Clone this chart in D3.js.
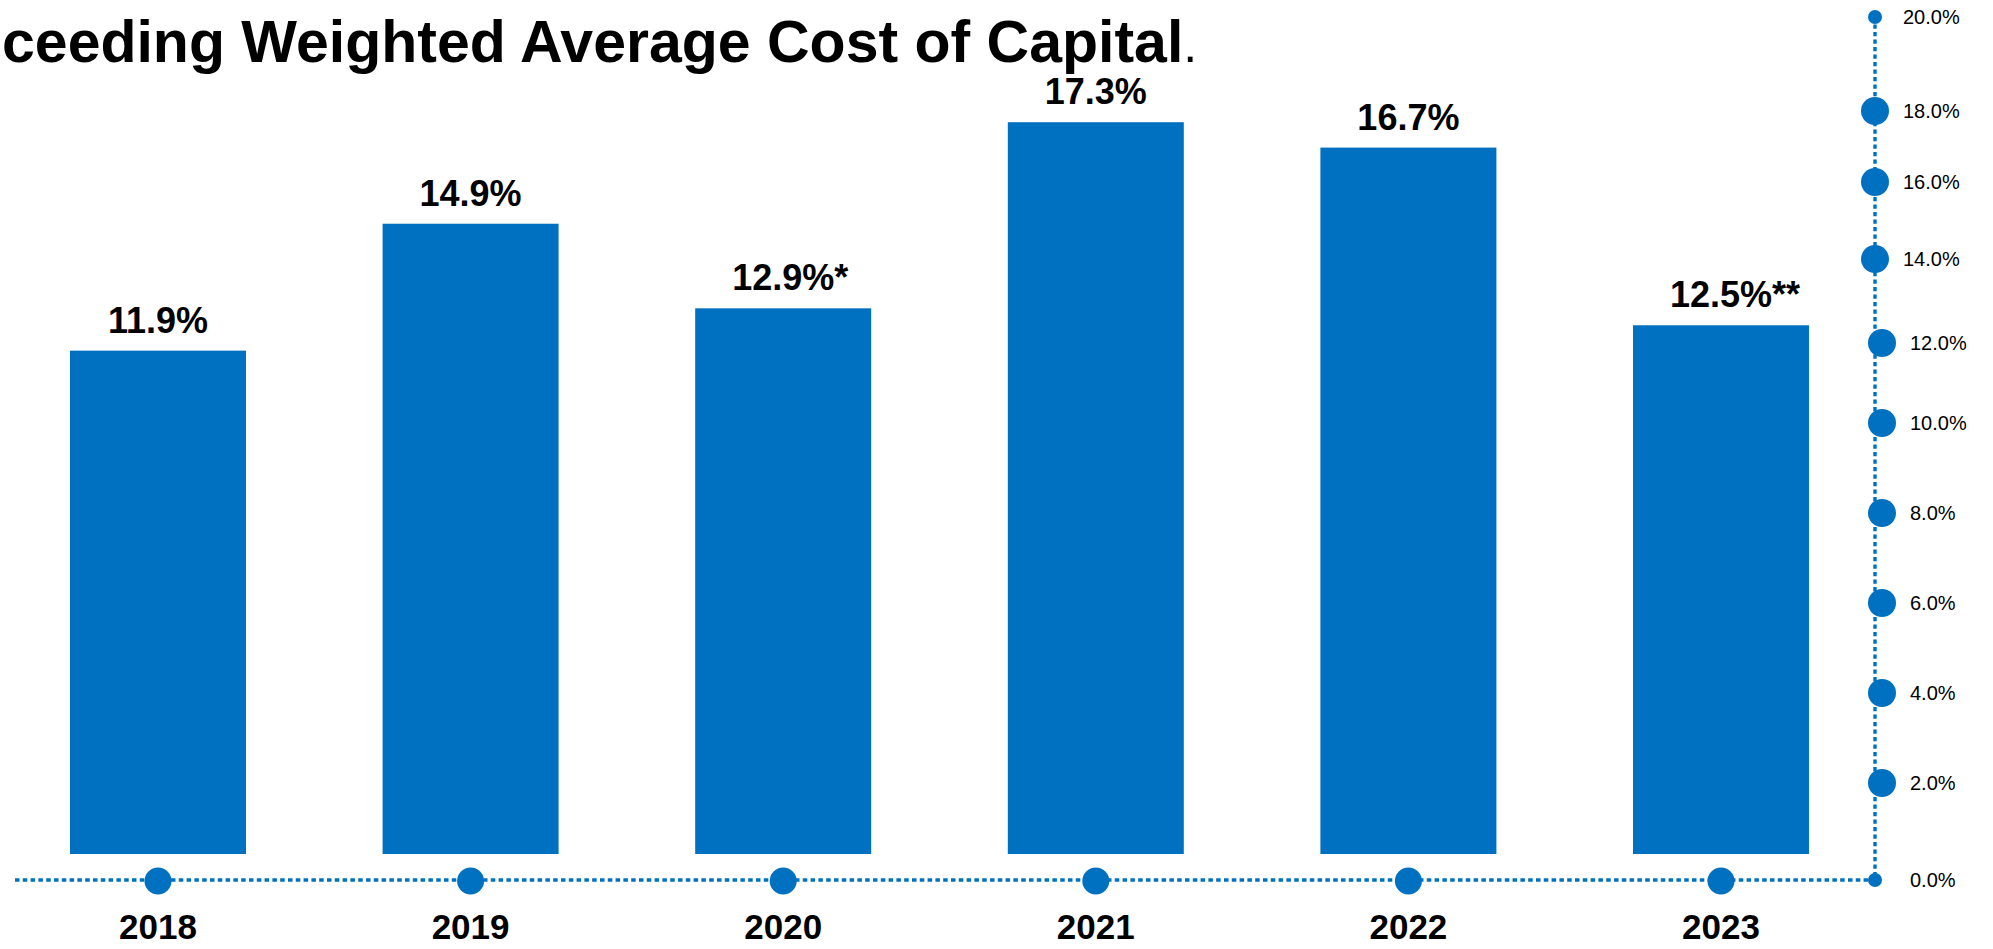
<!DOCTYPE html>
<html>
<head>
<meta charset="utf-8">
<script src="https://cdn.jsdelivr.net/npm/d3@7/dist/d3.min.js"></script>
<style>
  html, body { margin: 0; padding: 0; background: #ffffff; }
  svg { display: block; }
  text { font-family: "Liberation Sans", Arial, Helvetica, sans-serif; }
</style>
</head>
<body>
<svg id="chart" width="1993" height="949"></svg>
<script>
// ---- data ----
const years = ["2018", "2019", "2020", "2021", "2022", "2023"];
const values = [11.9, 14.9, 12.9, 17.3, 16.7, 12.5];
const valueNotes = ["", "", "*", "", "", "**"];
const yTicks = [0, 2, 4, 6, 8, 10, 12, 14, 16, 18, 20];
const yTickLabels = ["0.0%", "2.0%", "4.0%", "6.0%", "8.0%", "10.0%", "12.0%", "14.0%", "16.0%", "18.0%", "20.0%"];
const titleText = "ceeding Weighted Average Cost of Capital";
const titleEnd = ".";

// ---- style ----
const blue = "#0070C0";
const svg = d3.select("#chart");

// scales
const x = d3.scaleBand().domain(years).range([70, 1809]).paddingInner(0.437).paddingOuter(0);
const barBase = 854;
const yBar = d3.scaleLinear().domain([0, 20]).range([barBase, barBase - 20 * 42.3]);
// decorative right axis (hand-spaced ticks, piecewise-linear scale)
const yAxis = d3.scaleLinear().domain(yTicks).range([880, 783, 693, 603, 513, 423, 343, 259, 182, 111, 17]);

const axisX = 1875;
const axisY = yAxis(0);

// title
const title = svg.append("text")
  .attr("x", 2).attr("y", 62)
  .attr("font-size", 59).attr("font-weight", "bold").attr("fill", "#000");
title.append("tspan").text(titleText);
title.append("tspan").attr("font-weight", "normal").attr("font-size", 50).text(titleEnd);

// bars
svg.append("g").selectAll("rect").data(values).join("rect")
  .attr("x", (d, i) => x(years[i]))
  .attr("width", x.bandwidth())
  .attr("y", d => yBar(d))
  .attr("height", d => barBase - yBar(d))
  .attr("fill", blue);

// value labels
const lg = svg.append("g");
values.forEach((v, i) => {
  const cx = x(years[i]) + x.bandwidth() / 2;
  const ty = yBar(v) - 18;
  const t = lg.append("text")
    .attr("x", cx).attr("y", ty)
    .attr("text-anchor", "middle")
    .attr("font-size", 36).attr("font-weight", "bold").attr("fill", "#000")
    .text(d3.format(".1f")(v) + "%");
  if (valueNotes[i]) {
    const w = t.node().getComputedTextLength();
    lg.append("text")
      .attr("x", cx + w / 2).attr("y", ty)
      .attr("font-size", 36).attr("font-weight", "bold").attr("fill", "#000")
      .text(valueNotes[i]);
  }
});

// dotted axis lines
svg.append("line")
  .attr("x1", 15).attr("x2", axisX).attr("y1", axisY).attr("y2", axisY)
  .attr("stroke", blue).attr("stroke-width", 3.6).attr("stroke-dasharray", "4.5 3.3");
svg.append("line")
  .attr("x1", axisX).attr("x2", axisX).attr("y1", yAxis(20)).attr("y2", axisY)
  .attr("stroke", blue).attr("stroke-width", 3.4).attr("stroke-dasharray", "4.2 3.3");

// category dots and year labels
svg.append("g").selectAll("circle").data(years).join("circle")
  .attr("cx", d => x(d) + x.bandwidth() / 2)
  .attr("cy", axisY + 1)
  .attr("r", 13.5)
  .attr("fill", blue);
svg.append("g").selectAll("text").data(years).join("text")
  .attr("x", d => x(d) + x.bandwidth() / 2)
  .attr("y", 939)
  .attr("text-anchor", "middle")
  .attr("font-size", 35).attr("font-weight", "bold").attr("fill", "#000")
  .text(d => d);

// right axis tick dots and labels
const dotShift = v => (v >= 2 && v <= 12 ? 7 : 0);
const isEnd = v => v === 0 || v === 20;
const tg = svg.append("g");
tg.selectAll("circle").data(yTicks).join("circle")
  .attr("cx", d => axisX + dotShift(d))
  .attr("cy", d => yAxis(d))
  .attr("r", d => isEnd(d) ? 7 : 14)
  .attr("fill", blue);
tg.selectAll("text").data(yTicks).join("text")
  .attr("x", d => 1903 + (d <= 12 ? 7 : 0))
  .attr("y", d => yAxis(d))
  .attr("dy", "0.35em")
  .attr("font-size", 20).attr("fill", "#000")
  .text((d, i) => yTickLabels[i]);
</script>
</body>
</html>
